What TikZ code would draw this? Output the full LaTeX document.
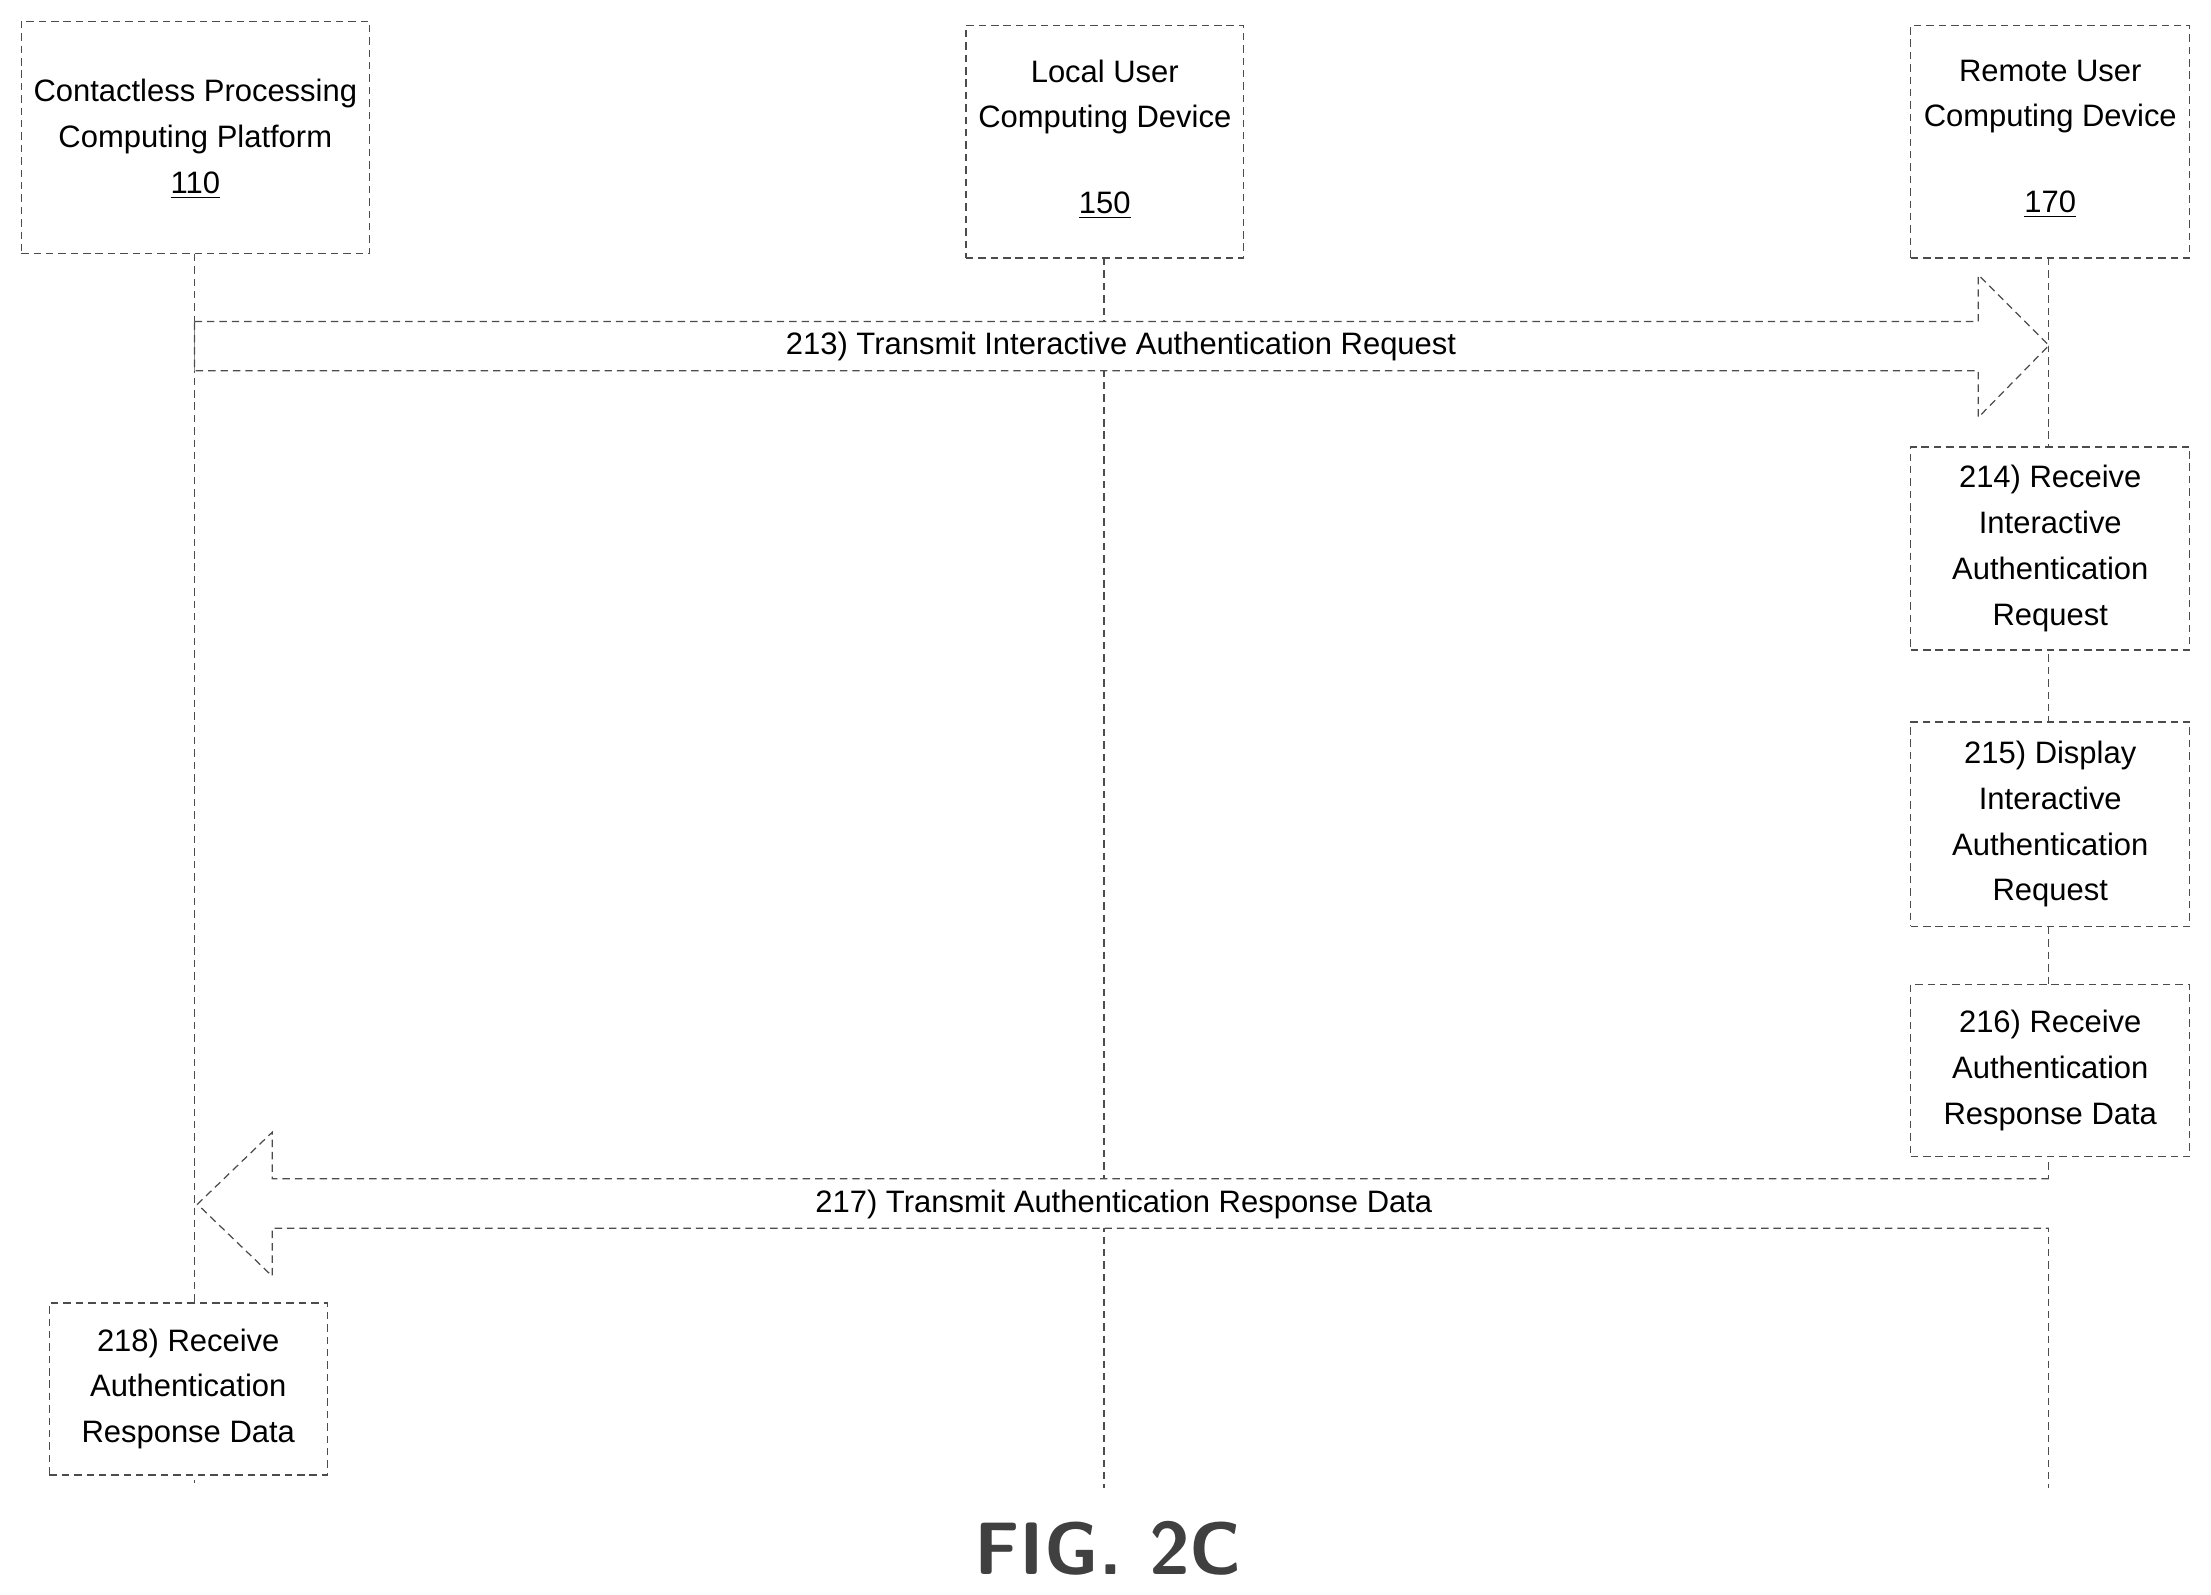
\documentclass[tikz,border=0pt]{standalone}
\usepackage{fontspec}
\setmainfont{Liberation Sans}
\begin{document}
\begin{tikzpicture}[x=0.02cm,y=-0.02cm,
  dl/.style={draw=black!70,densely dashed,line width=0.5pt},
  bx/.style={dl,fill=white,align=center,font=\fontsize{12.5}{18.5}\selectfont,inner sep=0pt},
  tx/.style={align=center,font=\fontsize{12.5}{18.5}\selectfont,inner sep=0pt},
  lbl/.style={font=\fontsize{12.5}{15}\selectfont}]
\useasboundingbox (0,0) rectangle (1568,1131);
% lifelines
\coordinate (l1t) at (138,180); \coordinate (l1b) at (138,1052);
\coordinate (l2t) at (783,183); \coordinate (l2b) at (783,1055);
\coordinate (l3t) at (1453,183); \coordinate (l3b) at (1453,1055);
\draw[dl] (l1t)--(l1b); \draw[dl] (l2t)--(l2b); \draw[dl] (l3t)--(l3b);
% heads
\node[bx,minimum width=247*0.02cm,minimum height=165*0.02cm] (p110) at (138.5,97.5) {};
\node[tx,anchor=north] (t110) at (138.5,56) {Contactless Processing\\Computing Platform\\\underline{110}};
\node[bx,minimum width=197*0.02cm,minimum height=165*0.02cm] (p150) at (783.5,100.5) {};
\node[tx,anchor=north] (t150) at (783.5,42) {Local User\\Computing Device\\[16pt]\underline{150}};
\node[bx,minimum width=198*0.02cm,minimum height=165*0.02cm] (p170) at (1454,100.5) {};
\node[tx,anchor=north] (t170) at (1454,42) {Remote User\\Computing Device\\[16pt]\underline{170}};
% arrow 213
\draw[dl,fill=white] (138,228)--(1403,228)--(1403,195)--(1453,245)--(1403,296)--(1403,263)--(138,263)--cycle;
\node[lbl] (a213) at (795,246) {213) Transmit Interactive Authentication Request};
% steps
\node[bx,minimum width=198*0.02cm,minimum height=144*0.02cm] (s214) at (1454,389) {214) Receive\\Interactive\\Authentication\\Request};
\node[bx,minimum width=198*0.02cm,minimum height=145*0.02cm] (s215) at (1454,584.5) {215) Display\\Interactive\\Authentication\\Request};
\node[bx,minimum width=198*0.02cm,minimum height=122*0.02cm] (s216) at (1454,759) {216) Receive\\Authentication\\Response Data};
% arrow 217
\draw[dl,fill=white] (1453,836)--(193,836)--(193,803)--(140,854)--(193,905)--(193,871)--(1453,871);
\node[lbl] (a217) at (797,854) {217) Transmit Authentication Response Data};
\node[bx,minimum width=197*0.02cm,minimum height=122*0.02cm] (s218) at (133.5,985) {218) Receive\\Authentication\\Response Data};
\node[font=\sffamily\fontsize{30}{36}\selectfont\bfseries,text=black!75] (fig) at (786,1098) {FIG. 2C};
\end{tikzpicture}
\end{document}
